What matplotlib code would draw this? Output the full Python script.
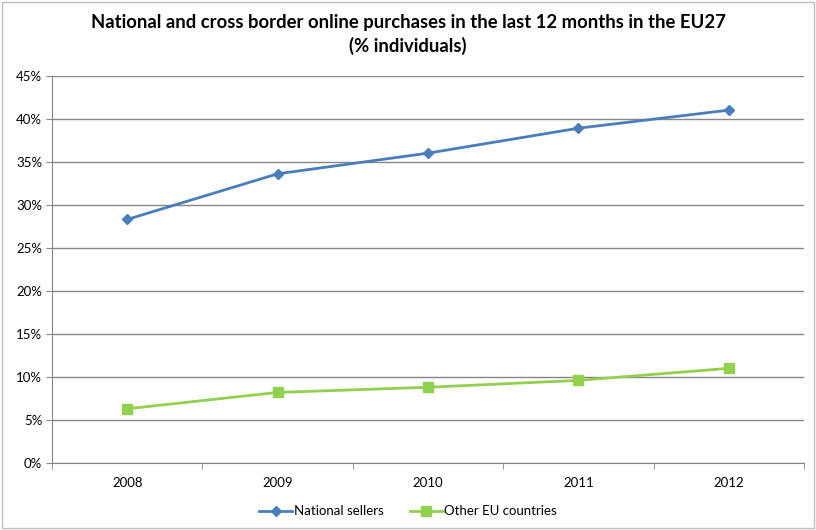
import matplotlib.pyplot as plt
from matplotlib.patches import Rectangle

# ==== DATI ====
years = ["2008", "2009", "2010", "2011", "2012"]
national = [28.3, 33.6, 36.0, 38.9, 41.0]
other_eu = [6.3, 8.2, 8.8, 9.6, 11.0]
yticks = [0, 5, 10, 15, 20, 25, 30, 35, 40, 45]

plt.rcParams['font.family'] = ['Lato', 'DejaVu Sans']

fig = plt.figure(figsize=(8.16, 5.3), dpi=100)
ax = fig.add_axes([52/816, 67/530, 752/816, 387.3/530])

x = list(range(len(years)))
ax.plot(x, national, color='#4A7EBB', lw=2, marker='D', ms=5, label='National sellers')
ax.plot(x, other_eu, color='#92D050', lw=2, marker='s', ms=6.5, label='Other EU countries')

# ---- assi ----
ax.set_xlim(-0.5, 4.5)
ax.set_ylim(0, 45)
ax.set_yticks(yticks)
ax.set_yticklabels([f"{v}%" for v in yticks], fontsize=9.5)
ax.set_xticks(x)
ax.set_xticklabels(years, fontsize=9.5)
ax.set_xticks([i - 0.5 for i in range(len(years) + 1)], minor=True)
ax.tick_params(axis='x', which='major', length=0, pad=10)
ax.tick_params(axis='x', which='minor', length=4, color='#868686')
ax.tick_params(axis='y', length=4, color='#868686', pad=3)
ax.grid(axis='y', color='#868686', lw=1)
ax.set_axisbelow(True)
for s in ['top', 'right']:
    ax.spines[s].set_visible(False)
for s in ['left', 'bottom']:
    ax.spines[s].set_color('#868686')

# ---- titolo ----
fig.text(0.5, 0.958, "National and cross border online purchases in the last 12 months in the EU27",
         ha='center', va='center', fontsize=13.3, fontweight='bold')
fig.text(0.5, 0.913, "(% individuals)", ha='center', va='center', fontsize=13.3, fontweight='bold')

# ---- legenda ----
fig.legend(loc='center', bbox_to_anchor=(0.5, 0.035), ncol=2, frameon=False,
           fontsize=9.5, handlelength=2.5, handletextpad=0.1, columnspacing=2)

# cornice
fig.patches.append(Rectangle((0.003, 0.003), 0.994, 0.994, transform=fig.transFigure,
                             fill=False, edgecolor='#BFBFBF', lw=1))

fig.savefig("out.png", dpi=100)
